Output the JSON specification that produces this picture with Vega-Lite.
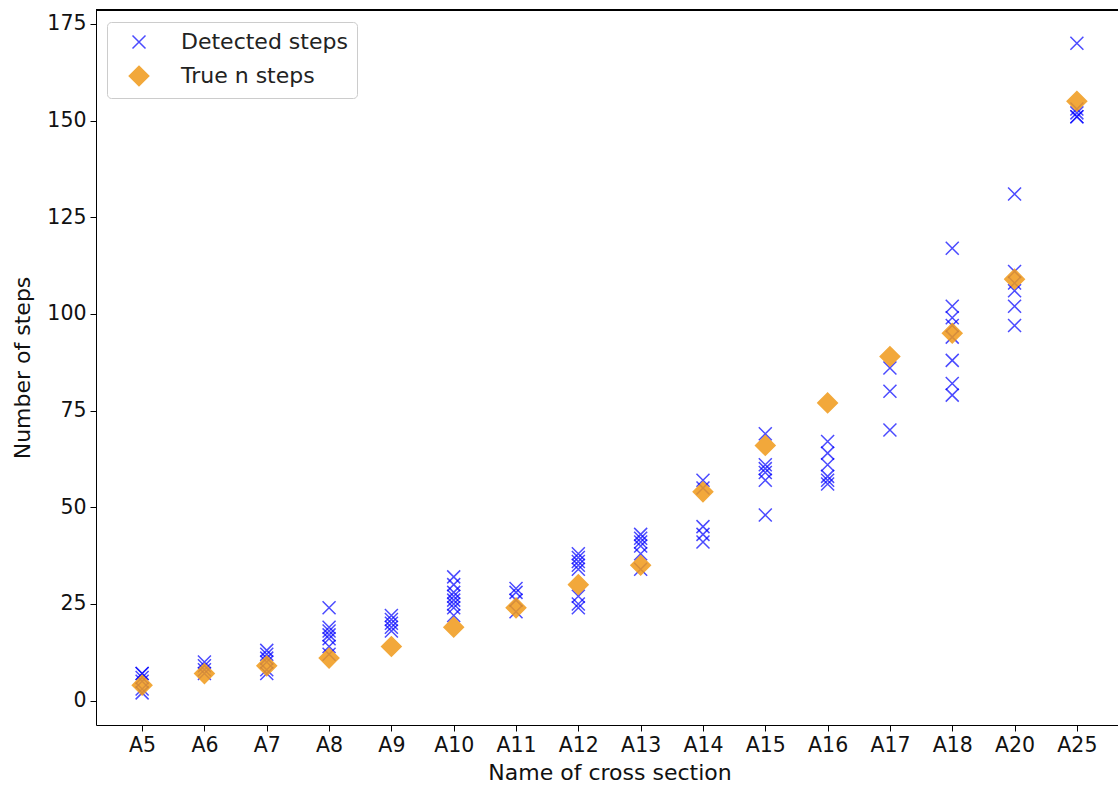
{
  "$schema": "https://vega.github.io/schema/vega-lite/v6.json",
  "width": 1022,
  "height": 715,
  "autosize": {"type": "none"},
  "padding": {"left": 96, "top": 10, "right": 0, "bottom": 62},
  "background": "white",
  "config": {
    "font": "DejaVu Sans",
    "view": {"stroke": null},
    "axis": {"grid": false, "domainColor": "black", "tickColor": "black", "labelColor": "#111111", "titleColor": "#111111", "labelFontSize": 20.5, "titleFontSize": 22, "titleFontWeight": "normal", "tickSize": 6, "labelPadding": 4}
  },
  "data": {"values": [
    {"section": "A5", "steps": 7, "series": "Detected steps"},
    {"section": "A5", "steps": 7, "series": "Detected steps"},
    {"section": "A5", "steps": 6, "series": "Detected steps"},
    {"section": "A5", "steps": 5, "series": "Detected steps"},
    {"section": "A5", "steps": 3, "series": "Detected steps"},
    {"section": "A5", "steps": 2, "series": "Detected steps"},
    {"section": "A6", "steps": 10, "series": "Detected steps"},
    {"section": "A6", "steps": 9, "series": "Detected steps"},
    {"section": "A6", "steps": 8, "series": "Detected steps"},
    {"section": "A6", "steps": 7, "series": "Detected steps"},
    {"section": "A7", "steps": 13, "series": "Detected steps"},
    {"section": "A7", "steps": 12, "series": "Detected steps"},
    {"section": "A7", "steps": 11, "series": "Detected steps"},
    {"section": "A7", "steps": 10, "series": "Detected steps"},
    {"section": "A7", "steps": 8, "series": "Detected steps"},
    {"section": "A7", "steps": 7, "series": "Detected steps"},
    {"section": "A8", "steps": 24, "series": "Detected steps"},
    {"section": "A8", "steps": 19, "series": "Detected steps"},
    {"section": "A8", "steps": 18, "series": "Detected steps"},
    {"section": "A8", "steps": 17, "series": "Detected steps"},
    {"section": "A8", "steps": 16, "series": "Detected steps"},
    {"section": "A8", "steps": 14, "series": "Detected steps"},
    {"section": "A8", "steps": 12, "series": "Detected steps"},
    {"section": "A9", "steps": 22, "series": "Detected steps"},
    {"section": "A9", "steps": 21, "series": "Detected steps"},
    {"section": "A9", "steps": 20, "series": "Detected steps"},
    {"section": "A9", "steps": 19, "series": "Detected steps"},
    {"section": "A9", "steps": 18, "series": "Detected steps"},
    {"section": "A10", "steps": 32, "series": "Detected steps"},
    {"section": "A10", "steps": 30, "series": "Detected steps"},
    {"section": "A10", "steps": 28, "series": "Detected steps"},
    {"section": "A10", "steps": 27, "series": "Detected steps"},
    {"section": "A10", "steps": 26, "series": "Detected steps"},
    {"section": "A10", "steps": 25, "series": "Detected steps"},
    {"section": "A10", "steps": 24, "series": "Detected steps"},
    {"section": "A10", "steps": 22, "series": "Detected steps"},
    {"section": "A11", "steps": 29, "series": "Detected steps"},
    {"section": "A11", "steps": 28, "series": "Detected steps"},
    {"section": "A11", "steps": 26, "series": "Detected steps"},
    {"section": "A11", "steps": 23, "series": "Detected steps"},
    {"section": "A12", "steps": 38, "series": "Detected steps"},
    {"section": "A12", "steps": 37, "series": "Detected steps"},
    {"section": "A12", "steps": 36, "series": "Detected steps"},
    {"section": "A12", "steps": 35, "series": "Detected steps"},
    {"section": "A12", "steps": 34, "series": "Detected steps"},
    {"section": "A12", "steps": 27, "series": "Detected steps"},
    {"section": "A12", "steps": 25, "series": "Detected steps"},
    {"section": "A12", "steps": 24, "series": "Detected steps"},
    {"section": "A13", "steps": 43, "series": "Detected steps"},
    {"section": "A13", "steps": 42, "series": "Detected steps"},
    {"section": "A13", "steps": 41, "series": "Detected steps"},
    {"section": "A13", "steps": 40, "series": "Detected steps"},
    {"section": "A13", "steps": 38, "series": "Detected steps"},
    {"section": "A13", "steps": 34, "series": "Detected steps"},
    {"section": "A14", "steps": 57, "series": "Detected steps"},
    {"section": "A14", "steps": 55, "series": "Detected steps"},
    {"section": "A14", "steps": 45, "series": "Detected steps"},
    {"section": "A14", "steps": 43, "series": "Detected steps"},
    {"section": "A14", "steps": 41, "series": "Detected steps"},
    {"section": "A15", "steps": 69, "series": "Detected steps"},
    {"section": "A15", "steps": 61, "series": "Detected steps"},
    {"section": "A15", "steps": 60, "series": "Detected steps"},
    {"section": "A15", "steps": 59, "series": "Detected steps"},
    {"section": "A15", "steps": 57, "series": "Detected steps"},
    {"section": "A15", "steps": 48, "series": "Detected steps"},
    {"section": "A16", "steps": 67, "series": "Detected steps"},
    {"section": "A16", "steps": 64, "series": "Detected steps"},
    {"section": "A16", "steps": 61, "series": "Detected steps"},
    {"section": "A16", "steps": 58, "series": "Detected steps"},
    {"section": "A16", "steps": 57, "series": "Detected steps"},
    {"section": "A16", "steps": 56, "series": "Detected steps"},
    {"section": "A17", "steps": 86, "series": "Detected steps"},
    {"section": "A17", "steps": 80, "series": "Detected steps"},
    {"section": "A17", "steps": 70, "series": "Detected steps"},
    {"section": "A18", "steps": 117, "series": "Detected steps"},
    {"section": "A18", "steps": 102, "series": "Detected steps"},
    {"section": "A18", "steps": 99, "series": "Detected steps"},
    {"section": "A18", "steps": 97, "series": "Detected steps"},
    {"section": "A18", "steps": 94, "series": "Detected steps"},
    {"section": "A18", "steps": 88, "series": "Detected steps"},
    {"section": "A18", "steps": 82, "series": "Detected steps"},
    {"section": "A18", "steps": 79, "series": "Detected steps"},
    {"section": "A20", "steps": 131, "series": "Detected steps"},
    {"section": "A20", "steps": 111, "series": "Detected steps"},
    {"section": "A20", "steps": 108, "series": "Detected steps"},
    {"section": "A20", "steps": 106, "series": "Detected steps"},
    {"section": "A20", "steps": 102, "series": "Detected steps"},
    {"section": "A20", "steps": 97, "series": "Detected steps"},
    {"section": "A25", "steps": 170, "series": "Detected steps"},
    {"section": "A25", "steps": 153, "series": "Detected steps"},
    {"section": "A25", "steps": 152, "series": "Detected steps"},
    {"section": "A25", "steps": 151, "series": "Detected steps"},
    {"section": "A25", "steps": 151, "series": "Detected steps"},
    {"section": "A5", "steps": 4, "series": "True n steps"},
    {"section": "A6", "steps": 7, "series": "True n steps"},
    {"section": "A7", "steps": 9, "series": "True n steps"},
    {"section": "A8", "steps": 11, "series": "True n steps"},
    {"section": "A9", "steps": 14, "series": "True n steps"},
    {"section": "A10", "steps": 19, "series": "True n steps"},
    {"section": "A11", "steps": 24, "series": "True n steps"},
    {"section": "A12", "steps": 30, "series": "True n steps"},
    {"section": "A13", "steps": 35, "series": "True n steps"},
    {"section": "A14", "steps": 54, "series": "True n steps"},
    {"section": "A15", "steps": 66, "series": "True n steps"},
    {"section": "A16", "steps": 77, "series": "True n steps"},
    {"section": "A17", "steps": 89, "series": "True n steps"},
    {"section": "A18", "steps": 95, "series": "True n steps"},
    {"section": "A20", "steps": 109, "series": "True n steps"},
    {"section": "A25", "steps": 155, "series": "True n steps"}
  ]},
  "layer": [
    {
      "mark": {"type": "rule", "color": "black", "strokeWidth": 1},
      "encoding": {"y": {"datum": 178.6, "type": "quantitative"}}
    },
    {
      "mark": {"type": "point", "filled": true, "size": 169, "strokeWidth": 1.5},
      "encoding": {
        "x": {
          "field": "section", "type": "nominal", "sort": null,
          "scale": {"type": "point", "padding": 0.74, "range": [0, 1027]},
          "axis": {"title": "Name of cross section", "labelAngle": 0, "titlePadding": 7}
        },
        "y": {
          "field": "steps", "type": "quantitative",
          "scale": {"domain": [-6.3, 178.6], "nice": false, "zero": false},
          "axis": {"title": "Number of steps", "values": [0, 25, 50, 75, 100, 125, 150, 175], "titlePadding": 12}
        },
        "color": {
          "field": "series", "type": "nominal",
          "scale": {"domain": ["Detected steps", "True n steps"], "range": ["#0000ff", "#f09a19"]},
          "legend": {
            "title": null, "orient": "none", "legendX": 11, "legendY": 12,
            "labelFontSize": 22, "labelLimit": 500, "labelColor": "#222222", "strokeColor": "#cccccc", "fillColor": "white",
            "cornerRadius": 4, "padding": 9, "rowPadding": 10, "labelOffset": 31, "symbolSize": 169, "symbolStrokeWidth": 1.5, "symbolOffset": 12
          }
        },
        "stroke": {
          "field": "series", "type": "nominal",
          "scale": {"domain": ["Detected steps", "True n steps"], "range": ["#0000ff", "#f09a19"]}
        },
        "shape": {
          "field": "series", "type": "nominal",
          "scale": {"domain": ["Detected steps", "True n steps"], "range": ["M-1,-1L1,1M-1,1L1,-1", "M-1.5,0L0,-1.5L1.5,0L0,1.5Z"]}
        },
        "opacity": {
          "field": "series", "type": "nominal",
          "scale": {"domain": ["Detected steps", "True n steps"], "range": [0.7, 0.85]}
        }
      }
    }
  ]
}
